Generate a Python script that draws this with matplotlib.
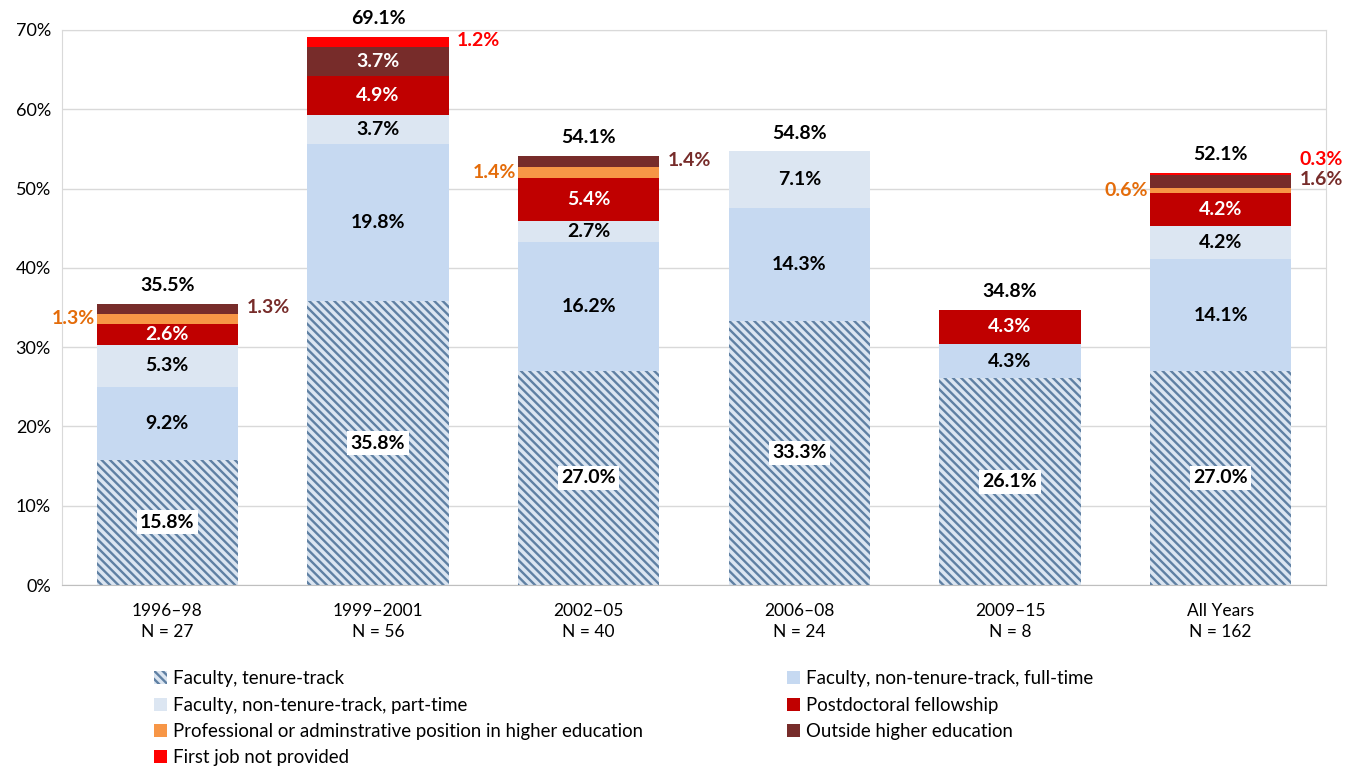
import matplotlib
matplotlib.use("Agg")
import matplotlib.pyplot as plt
import numpy as np
from matplotlib.patches import Patch

plt.rcParams['font.family'] = ['Lato', 'DejaVu Sans']
plt.rcParams['hatch.linewidth'] = 1.7

categories = ["1996–98\nN = 27", "1999–2001\nN = 56", "2002–05\nN = 40",
              "2006–08\nN = 24", "2009–15\nN = 8", "All Years\nN = 162"]
series_names = ["Faculty, tenure-track",
                "Faculty, non-tenure-track, full-time",
                "Faculty, non-tenure-track, part-time",
                "Postdoctoral fellowship",
                "Professional or adminstrative position in higher education",
                "Outside higher education",
                "First job not provided"]
tenure_track = [15.8, 35.8, 27.0, 33.3, 26.1, 27.0]
ntt_full = [9.2, 19.8, 16.2, 14.3, 4.3, 14.1]
ntt_part = [5.3, 3.7, 2.7, 7.1, 0.0, 4.2]
postdoc = [2.6, 4.9, 5.4, 0.0, 4.3, 4.2]
professional = [1.3, 0.0, 1.4, 0.0, 0.0, 0.6]
outside = [1.3, 3.7, 1.4, 0.0, 0.0, 1.6]
not_provided = [0.0, 1.2, 0.0, 0.0, 0.0, 0.3]
totals = [35.5, 69.1, 54.1, 54.8, 34.8, 52.1]
y_ticks = [0, 10, 20, 30, 40, 50, 60, 70]

series = [tenure_track, ntt_full, ntt_part, postdoc, professional, outside, not_provided]
face = ['#dbe5f1', '#c6d9f1', '#dce6f2', '#c00000', '#f79646', '#772c2a', '#ff0000']
inner_text = ['black', 'black', 'black', 'white', 'white', 'white', 'white']
outer_text = [None, None, None, None, '#e46c0a', '#772c2a', '#ff0000']
hatch_col = '#5f80a3'
HATCH = '\\\\\\\\'

fig = plt.figure(figsize=(13.64, 7.74), dpi=100)
ax = fig.add_axes([62/1364, 1-585/774, (1326-62)/1364, (585-30)/774])

x = np.arange(len(categories))
width = 0.67
bottom = np.zeros(len(categories))
handles = []
seg_info = []
for i, vals in enumerate(series):
    vals = np.array(vals)
    if i == 0:
        ax.bar(x, vals, width, bottom=bottom, facecolor=face[i], edgecolor=hatch_col,
               hatch=HATCH, linewidth=0, zorder=2)
        handles.append(Patch(facecolor=face[i], edgecolor=hatch_col, hatch=HATCH, linewidth=0))
    else:
        ax.bar(x, vals, width, bottom=bottom, color=face[i], linewidth=0, zorder=2)
        handles.append(Patch(facecolor=face[i], linewidth=0))
    seg_info.append((vals, bottom.copy()))
    bottom = bottom + vals

FS = 14
last_right = [None] * len(categories)
for i, (vals, bot) in enumerate(seg_info):
    for j, v in enumerate(vals):
        if v <= 0:
            continue
        yc = bot[j] + v / 2
        txt = f"{v:.1f}%"
        if v >= 2:
            kw = dict(ha='center', va='center', fontsize=FS, fontweight='bold',
                      color=inner_text[i], zorder=4)
            if i == 0:
                kw['bbox'] = dict(facecolor='white', edgecolor='none', pad=2.5)
            ax.text(x[j], yc, txt, **kw)
        else:
            if i == 4:
                ax.text(x[j] - width/2 - 0.01, yc, txt, ha='right', va='center', fontsize=FS,
                        fontweight='bold', color=outer_text[i], zorder=4)
            else:
                y = yc + 0.2
                if last_right[j] is not None and y - last_right[j] < 2.2:
                    y = last_right[j] + 2.6
                ax.text(x[j] + width/2 + 0.04, y, txt, ha='left', va='center', fontsize=FS,
                        fontweight='bold', color=outer_text[i], zorder=4)
                last_right[j] = y

for j, t in enumerate(totals):
    ax.annotate(f"{t:.1f}%", (x[j], bottom[j]), xytext=(0, 7), textcoords='offset points',
                ha='center', va='bottom', fontsize=FS, fontweight='bold', color='black')

ax.set_xlim(-0.5, len(categories) - 0.5)
ax.set_ylim(0, 70)
ax.set_yticks(y_ticks)
ax.set_yticklabels([f"{t}%" for t in y_ticks], fontsize=13)
ax.set_xticks(x)
ax.set_xticklabels(categories, fontsize=12.5, linespacing=1.35)
ax.tick_params(axis='both', length=0, colors='black')
ax.tick_params(axis='x', pad=13)
ax.tick_params(axis='y', pad=8)
ax.yaxis.grid(True, color='#d9d9d9', linewidth=1, zorder=0)
ax.set_axisbelow(True)
for s in ['top', 'right', 'left']:
    ax.spines[s].set_color('#d9d9d9')
ax.spines['bottom'].set_color('#bfbfbf')

order = [0, 2, 4, 6, 1, 3, 5]
fig.legend([handles[k] for k in order], [series_names[k] for k in order], ncol=2,
           loc='upper left', bbox_to_anchor=(145/1364, 1-661/774), frameon=False,
           fontsize=13.4, handlelength=0.7, handleheight=0.7, handletextpad=0.3,
           labelspacing=0.5, columnspacing=7.75, borderpad=0)

fig.savefig("out.png", dpi=100)
